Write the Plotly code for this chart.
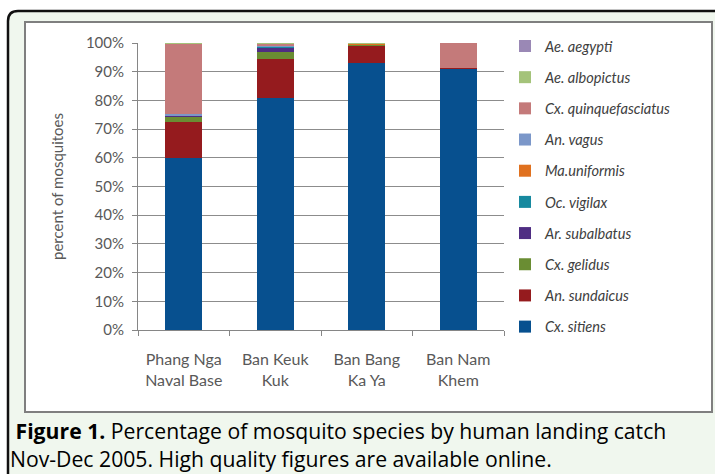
import plotly.graph_objects as go

# ---- data ----
sites = ["Phang Nga<br>Naval Base", "Ban Keuk<br>Kuk", "Ban Bang<br>Ka Ya", "Ban Nam<br>Khem"]

species = ["Cx. sitiens", "An. sundaicus", "Cx. gelidus", "Ar. subalbatus", "Oc. vigilax",
           "Ma.uniformis", "An. vagus", "Cx. quinquefasciatus", "Ae. albopictus", "Ae. aegypti"]

cx_sitiens = [60.0, 81.0, 93.0, 91.0]
an_sundaicus = [12.5, 13.3, 6.1, 0.3]
cx_gelidus = [1.8, 2.5, 0.3, 0.0]
ar_subalbatus = [0.3, 1.6, 0.0, 0.0]
oc_vigilax = [0.0, 0.3, 0.0, 0.0]
ma_uniformis = [0.2, 0.1, 0.3, 0.0]
an_vagus = [0.3, 0.3, 0.0, 0.0]
cx_quinquefasciatus = [24.6, 0.8, 0.0, 8.7]
ae_albopictus = [0.3, 0.1, 0.3, 0.0]
ae_aegypti = [0.0, 0.0, 0.0, 0.0]

series = [cx_sitiens, an_sundaicus, cx_gelidus, ar_subalbatus, oc_vigilax,
          ma_uniformis, an_vagus, cx_quinquefasciatus, ae_albopictus, ae_aegypti]

colors = ["#07508f", "#951b1e", "#6a8d33", "#4f2d83", "#17899f",
          "#e0711f", "#7b97c9", "#c47a7a", "#a4c37a", "#9a88b5"]

caption_lines = ["\u00a0<b>Figure 1.</b> Percentage of mosquito species by human landing catch",
                 "Nov-Dec 2005. High quality figures are available online."]

W, H = 715, 474
L, R, T, B = 138, 504, 43, 330


def PX(x):
    return (x - L) / (R - L)


def PY(y):
    return (B - y) / (B - T)


fig = go.Figure()
n = len(species)
for i, (name, vals, col) in enumerate(zip(species, series, colors)):
    fig.add_trace(go.Bar(
        x=sites, y=vals, name=name, legendgroup=name, legendrank=n - i,
        marker=dict(color=col, line=dict(width=0)),
        width=0.4,
    ))

FONT = "Lato"
CAP_FONT = "Open Sans"

shapes = [
    # outer light green box with rounded top-left corner
    dict(type="path", xref="paper", yref="paper", layer="below",
         path=f"M {PX(8)},{PY(490)} L {PX(8)},{PY(21)} Q {PX(8)},{PY(11)} {PX(18)},{PY(11)} "
              f"L {PX(730)},{PY(11)} L {PX(730)},{PY(490)} Z",
         fillcolor="#f0f7ee", line=dict(color="#111111", width=2.5)),
    # inner white chart box
    dict(type="rect", xref="paper", yref="paper", layer="below",
         x0=PX(25), y0=PY(412), x1=PX(712), y1=PY(22),
         fillcolor="#ffffff", line=dict(color="#7f7f7f", width=2)),
]

annotations = [
    dict(text="<br>".join(caption_lines), align="left",
         xref="paper", yref="paper", x=PX(9), y=PY(444), xanchor="left", yanchor="middle",
         showarrow=False, borderpad=0, font=dict(family=CAP_FONT, size=21.2, color="#000000")),
]

fig.update_layout(
    width=W, height=H,
    margin=dict(l=L, r=W - R, t=T, b=H - B, pad=0),
    paper_bgcolor="#ffffff", plot_bgcolor="rgba(0,0,0,0)",
    barmode="stack",
    font=dict(family=FONT, size=15, color="#595959"),
    showlegend=True,
    legend=dict(
        x=PX(505), y=PY(30), xanchor="left", yanchor="top",
        traceorder="grouped", tracegroupgap=9.2, maxheight=440,
        font=dict(family=FONT, size=14.6, color="#404040", style="italic"),
        bgcolor="rgba(0,0,0,0)",
    ),
    xaxis=dict(
        type="category", showline=True, linecolor="#868686", linewidth=1,
        ticks="outside", tickson="boundaries", ticklen=5, tickcolor="#868686",
        tickfont=dict(family=FONT, size=16, color="#595959"),
        ticklabelstandoff=15,
        showgrid=False, fixedrange=True,
    ),
    yaxis=dict(
        range=[0, 100], dtick=10, ticksuffix="%",
        showline=True, linecolor="#868686", linewidth=1,
        ticks="outside", ticklen=5, tickcolor="#868686",
        showgrid=True, gridcolor="#8c8c8c", gridwidth=1,
        zeroline=False, ticklabelstandoff=5,
        tickfont=dict(family=FONT, size=15, color="#595959"),
        title=dict(text="percent of mosquitoes", font=dict(family=FONT, size=15, color="#595959"),
                   standoff=18),
        fixedrange=True,
    ),
    shapes=shapes,
    annotations=annotations,
)

fig.write_html("out.html", config={"displayModeBar": False},
               post_script="document.body.style.margin='0';")
